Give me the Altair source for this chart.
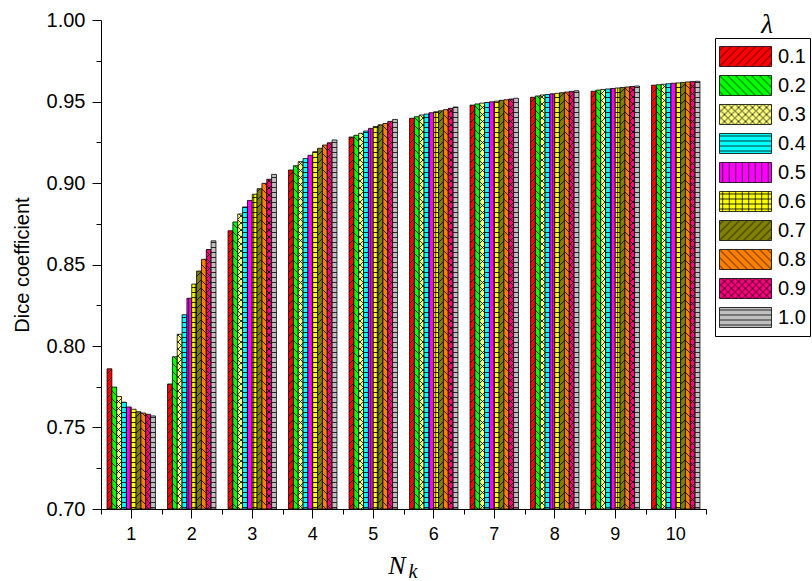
import altair as alt
import pandas as pd
import jinja2

# ---- data -------------------------------------------------------------
nk_values = list(range(1, 11))
lambda_labels = ["0.1", "0.2", "0.3", "0.4", "0.5", "0.6", "0.7", "0.8", "0.9", "1.0"]

dice_nk1 = [0.7860, 0.7748, 0.7690, 0.7655, 0.7626, 0.7612, 0.7597, 0.7589, 0.7581, 0.7571]
dice_nk2 = [0.7767, 0.7934, 0.8072, 0.8192, 0.8293, 0.8380, 0.8460, 0.8532, 0.8592, 0.8645]
dice_nk3 = [0.8707, 0.8761, 0.8810, 0.8853, 0.8893, 0.8931, 0.8965, 0.8998, 0.9023, 0.9053]
dice_nk4 = [0.9080, 0.9106, 0.9131, 0.9150, 0.9170, 0.9192, 0.9213, 0.9233, 0.9247, 0.9264]
dice_nk5 = [0.9282, 0.9293, 0.9305, 0.9319, 0.9335, 0.9347, 0.9357, 0.9365, 0.9378, 0.9390]
dice_nk6 = [0.9397, 0.9407, 0.9417, 0.9423, 0.9431, 0.9437, 0.9443, 0.9450, 0.9458, 0.9466]
dice_nk7 = [0.9478, 0.9485, 0.9490, 0.9494, 0.9498, 0.9502, 0.9507, 0.9511, 0.9515, 0.9520]
dice_nk8 = [0.9526, 0.9534, 0.9540, 0.9543, 0.9547, 0.9550, 0.9554, 0.9558, 0.9562, 0.9566]
dice_nk9 = [0.9563, 0.9570, 0.9574, 0.9577, 0.9580, 0.9583, 0.9586, 0.9589, 0.9592, 0.9595]
dice_nk10 = [0.9600, 0.9603, 0.9606, 0.9609, 0.9612, 0.9614, 0.9617, 0.9620, 0.9622, 0.9624]
dice_by_nk = [dice_nk1, dice_nk2, dice_nk3, dice_nk4, dice_nk5,
              dice_nk6, dice_nk7, dice_nk8, dice_nk9, dice_nk10]

y_tick_values = [0.70, 0.725, 0.75, 0.775, 0.80, 0.825, 0.85, 0.875,
                 0.90, 0.925, 0.95, 0.975, 1.00]
x_edges = [0.5, 1.5, 2.5, 3.5, 4.5, 5.5, 6.5, 7.5, 8.5, 9.5, 10.5]

legend_title = ["λ"]
x_title_main = ["N"]
x_title_sub = ["k"]

rows = []
for nk, values in zip(nk_values, dice_by_nk):
    for lam, v in zip(lambda_labels, values):
        rows.append({"Nk": nk, "lambda": lam, "dice": v})
df = pd.DataFrame(rows)

# ---- hatch fills (SVG patterns referenced by url(#id)) -----------------
fill_colors = ["#FF0000", "#00FF00", "#FFFF80", "#00FFFF", "#FF00FF",
               "#FFFF00", "#808000", "#FF8000", "#FF0080", "#C0C0C0"]
hatch_kinds = ["fwd", "back", "cross", "horiz", "vert",
               "grid", "fwd", "back", "cross", "horiz"]
pattern_ids = [f"hatch{i}" for i in range(len(lambda_labels))]
pattern_urls = [f"url(#{pid})" for pid in pattern_ids]


def pattern_svg(pid, color, kind):
    if kind == "fwd":
        w = h = 8
        d = "M-2,2L2,-2M0,8L8,0M6,10L10,6"
    elif kind == "back":
        w = h = 8
        d = "M-2,6L2,10M0,0L8,8M6,-2L10,2"
    elif kind == "cross":
        w = h = 7
        d = "M-2,2L2,-2M0,7L7,0M5,9L9,5M-2,5L2,9M0,0L7,7M5,-2L9,2"
    elif kind == "horiz":
        w, h = 8, 5
        d = "M0,2.5H8"
    elif kind == "vert":
        w, h = 6.5, 8
        d = "M3.25,0V8"
    else:
        w, h = 6.5, 5
        d = "M0,2.5H6.5M3.25,0V5"
    return (f'<pattern id="{pid}" patternUnits="userSpaceOnUse" width="{w}" height="{h}">'
            f'<rect width="{w}" height="{h}" fill="{color}"/>'
            f'<path d="{d}" stroke="#000" stroke-width="0.8" fill="none"/></pattern>')


pattern_defs = "".join(pattern_svg(p, c, k) for p, c, k in zip(pattern_ids, fill_colors, hatch_kinds))

page_template = jinja2.Template("""<!DOCTYPE html>
<html>
<head>
  <style>
    body { margin: 0; }
    #{{ output_div }}.vega-embed { width: 100%; display: flex; }
    #{{ output_div }}.vega-embed details,
    #{{ output_div }}.vega-embed details summary { position: relative; }
  </style>
  <script type="text/javascript" src="{{ base_url }}/vega@{{ vega_version }}"></script>
  <script type="text/javascript" src="{{ base_url }}/vega-lite@{{ vegalite_version }}"></script>
  <script type="text/javascript" src="{{ base_url }}/vega-embed@{{ vegaembed_version }}"></script>
</head>
<body>
  <svg width="0" height="0" style="position:absolute;left:0;top:0"><defs>""" + pattern_defs + """</defs></svg>
  <div id="{{ output_div }}"></div>
  <script>
    var spec = {{ spec }};
    var embedOpt = {{ embed_options }};
    function showError(el, error){
        el.innerHTML = ('<div style="color:red;"><p>JavaScript Error: ' + error.message + '</p></div>');
        throw error;
    }
    const el = document.getElementById('{{ output_div }}');
    vegaEmbed("#{{ output_div }}", spec, embedOpt).catch(error => showError(el, error));
  </script>
</body>
</html>
""")

# ---- chart ------------------------------------------------------------
SANS = "Liberation Sans"
SERIF = "Liberation Serif"
major_test = "round(datum.value * 1000) % 50 == 0"

bars = alt.Chart(df).mark_bar(stroke="black", strokeWidth=0.8, opacity=1).encode(
    x=alt.X(
        "Nk:O",
        scale=alt.Scale(paddingInner=0.2, paddingOuter=0.1),
        axis=alt.Axis(title=None, labelAngle=0, tickSize=9, labelFontSize=18,
                      labelPadding=7, labelFont=SANS, labelColor="black",
                      domainColor="black", tickColor="black", grid=False),
    ),
    xOffset=alt.XOffset("lambda:N", sort=lambda_labels,
                        scale=alt.Scale(paddingInner=0, paddingOuter=0)),
    y=alt.Y(
        "dice:Q",
        scale=alt.Scale(domain=[0.7, 1.0], nice=False, zero=False),
        axis=alt.Axis(
            values=y_tick_values,
            labelExpr=f"{major_test} ? format(datum.value, '.2f') : ''",
            tickSize={"condition": {"test": major_test, "value": 9}, "value": 5},
            labelOverlap=False, labelFontSize=20, labelFont=SANS,
            labelColor="black", labelPadding=7, grid=False,
            domainColor="black", tickColor="black",
            title="Dice coefficient", titleFont=SANS, titleFontSize=20,
            titleFontWeight="normal", titleColor="black", titlePadding=14,
        ),
    ),
    y2=alt.datum(0.7),
    color=alt.Color(
        "lambda:N",
        scale=alt.Scale(domain=lambda_labels, range=pattern_urls),
        legend=alt.Legend(
            title=None, orient="none", legendX=614, legendY=18,
            symbolType="M-1,-0.385H1V0.385H-1Z", symbolSize=2704,
            symbolStrokeColor="black", symbolStrokeWidth=0.8, symbolOpacity=1,
            clipHeight=29, rowPadding=0, labelOffset=6,
            labelFont=SANS, labelFontSize=20, labelColor="black",
            strokeColor="black", padding=4, fillColor="white",
        ),
    ),
)

edge_ticks = alt.Chart(pd.DataFrame({"edge": x_edges})).mark_point(opacity=0).encode(
    x=alt.X("edge:Q",
            scale=alt.Scale(domain=[0.5, 10.5], nice=False, zero=False),
            axis=alt.Axis(orient="bottom", values=x_edges, labels=False,
                          domain=False, tickSize=5, tickColor="black",
                          title=None, grid=False)),
)

lam_text = alt.Chart(pd.DataFrame({"t": legend_title})).mark_text(
    font=SERIF, fontStyle="italic", fontSize=27, align="center",
    baseline="alphabetic", color="black",
).encode(x=alt.value(666), y=alt.value(13), text="t:N")

n_text = alt.Chart(pd.DataFrame({"t": x_title_main})).mark_text(
    font=SERIF, fontStyle="italic", fontSize=26, align="center",
    baseline="alphabetic", color="black",
).encode(x=alt.value(296), y=alt.value(554), text="t:N")

k_text = alt.Chart(pd.DataFrame({"t": x_title_sub})).mark_text(
    font=SERIF, fontStyle="italic", fontSize=20, align="center",
    baseline="alphabetic", color="black",
).encode(x=alt.value(312), y=alt.value(558), text="t:N")

chart = alt.layer(bars, edge_ticks, lam_text, n_text, k_text).resolve_scale(
    x="independent"
).properties(
    width=605,
    height=489,
    padding={"left": 101, "top": 20, "right": 106, "bottom": 72},
    autosize=alt.AutoSizeParams(type="none"),
).configure_view(strokeWidth=0)

chart.save("out.html", embed_options={"renderer": "svg", "actions": False},
           template=page_template)
